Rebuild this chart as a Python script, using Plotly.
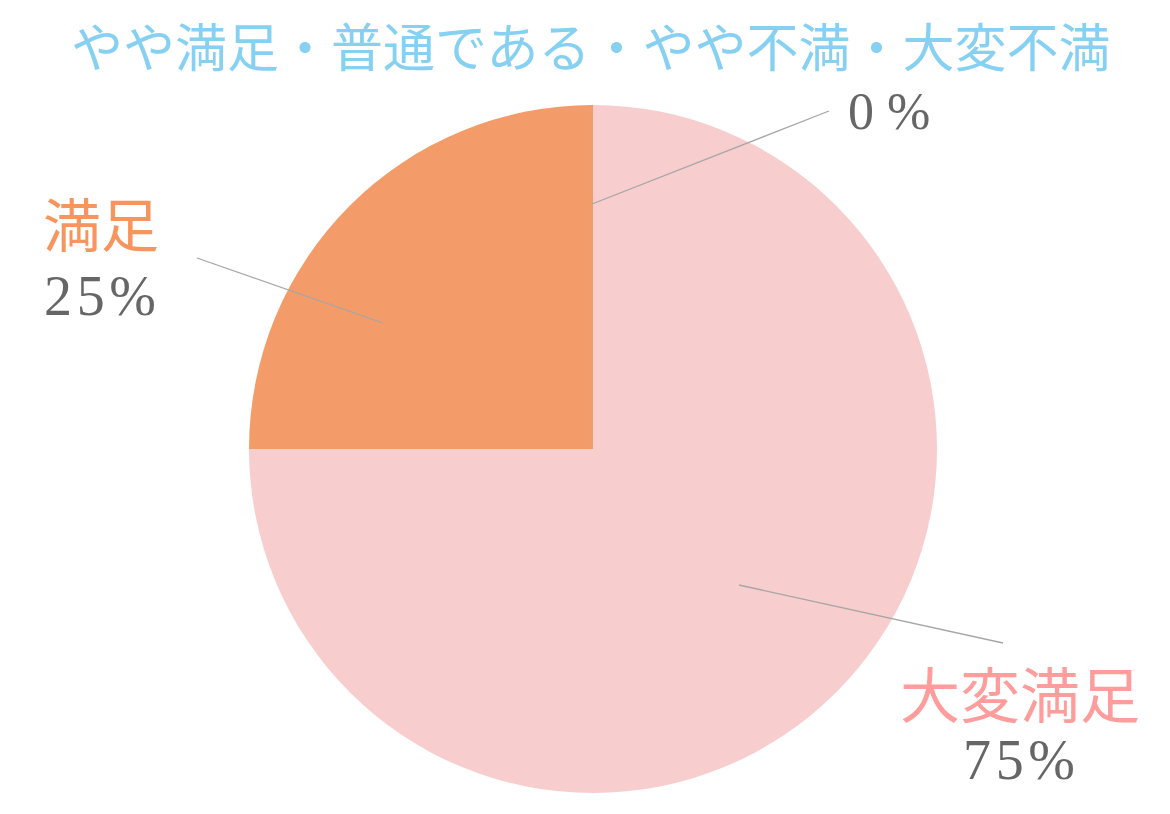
import plotly.graph_objects as go

# data
labels = ["大変満足", "満足", "やや満足・普通である・やや不満・大変不満"]
values = [75, 25, 0]
slice_colors = ["#F8CDCE", "#F39B69"]
label_colors = ["#FF9C9C", "#F7955E", "#86D0F2"]

W, H = 1170, 814
OFF = 8                     # page body margin
cx, cy, r = 593, 449, 344   # pie centre / radius in pixels


def px(x, y):
    return (x - OFF) / W, 1 - (y - OFF) / H


fig = go.Figure()

fig.add_trace(go.Pie(
    labels=labels,
    values=values,
    sort=False,
    direction="clockwise",
    rotation=0,
    textinfo="none",
    hoverinfo="label+percent",
    marker=dict(colors=slice_colors + ["#FFFFFF"], line=dict(width=0)),
    domain=dict(x=[(cx - r - OFF) / W, (cx + r - OFF) / W],
                y=[1 - (cy + r - OFF) / H, 1 - (cy - r - OFF) / H]),
    showlegend=False,
))

total = sum(values)
pct = [f"{round(v / total * 100)}%" for v in values]

# leader lines (outer end, inner end) in pixels
leaders = [((1003, 643), (739, 585)),
           ((197, 258), (383, 323)),
           ((829, 111), (592, 204))]
for (x0, y0), (x1, y1) in leaders:
    a0, b0 = px(x0, y0)
    a1, b1 = px(x1, y1)
    fig.add_shape(type="line", xref="paper", yref="paper",
                  x0=a0, y0=b0, x1=a1, y1=b1,
                  line=dict(color="#A6A6A6", width=1.3))

serif = "Liberation Serif, Noto Sans CJK JP"
cjk = "Noto Sans CJK JP"

# category labels
name_pos = [(1020, 691, 60), (101, 222, 58), (590, 45, 52)]
for name, col, (x, y, size) in zip(labels, label_colors, name_pos):
    a, b = px(x, y)
    fig.add_annotation(x=a, y=b, xref="paper", yref="paper",
                       text=name, showarrow=False,
                       xanchor="center", yanchor="middle",
                       font=dict(family=cjk, size=size, color=col))

# percentage labels
hair = "\u200a"
pct_pos = [(1019, 760), (100, 296), (889, 111)]
pct_size = [56, 56, 52]
pct_text = [hair.join(pct[0]), hair.join(pct[1]), pct[2].replace("%", " %")]
for t, (x, y), size in zip(pct_text, pct_pos, pct_size):
    a, b = px(x, y)
    fig.add_annotation(x=a, y=b, xref="paper", yref="paper",
                       text=t, showarrow=False,
                       xanchor="center", yanchor="middle",
                       font=dict(family=serif, size=size, color="#666666"))

fig.update_layout(
    width=W, height=H,
    margin=dict(l=0, r=0, t=0, b=0),
    paper_bgcolor="white",
    plot_bgcolor="white",
)

fig.write_html("out.html")
